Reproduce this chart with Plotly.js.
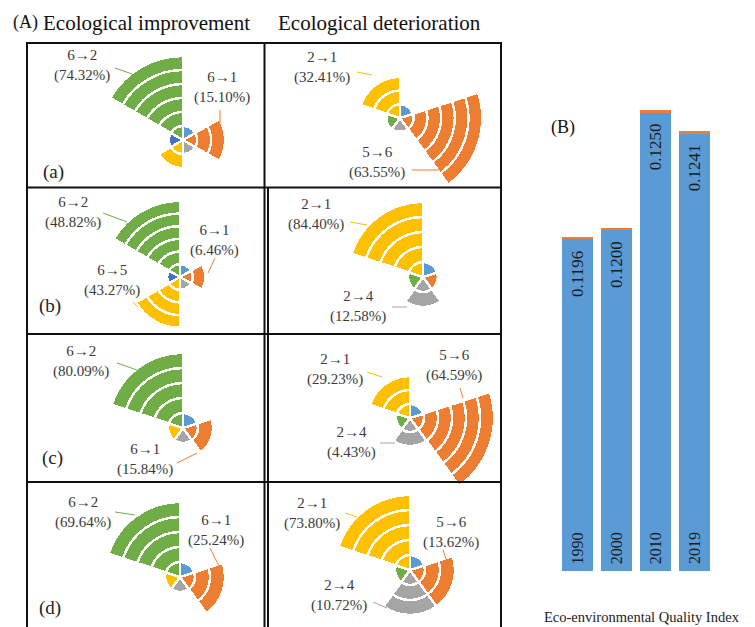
<!DOCTYPE html>
<html><head><meta charset="utf-8">
<script src="https://cdn.plot.ly/plotly-3.0.1.min.js"></script>
<style>html,body{margin:0;padding:0;overflow:hidden;background:#fff;}#chart{width:755px;height:700px;}</style>
</head><body><div id="chart"></div>
<script>
// ---- colours (sector order, clockwise from 12 o'clock) ----
const C_LBLUE='#5B9BD5', C_ORANGE='#ED7D31', C_GRAY='#A5A5A5', C_YELLOW='#FFC000', C_DBLUE='#4472C4', C_GREEN='#70AD47';
const impColors6 = [C_LBLUE, C_ORANGE, C_GRAY, C_YELLOW, C_DBLUE, C_GREEN];
const impColors5 = [C_LBLUE, C_ORANGE, C_GRAY, C_YELLOW, C_GREEN];
const detColors5 = [C_LBLUE, C_ORANGE, C_GRAY, C_GREEN, C_YELLOW];

// ---- ring counts per sector ----
const impRingsA = [1,3,1,2,1,6];
const impRingsB = [1,2,1,4,1,6];
const impRingsC = [1,2,1,1,5];
const impRingsD = [1,3,1,1,5];
const detRingsA = [1,6,1,1,3];
const detRingsB = [1,1,2,1,5];
const detRingsC = [1,6,2,1,3];
const detRingsD = [1,3,3,1,5];

// ---- labels ----
const impLabA = ['6→2','6→1'],       impPctA = ['74.32%','15.10%'];
const impLabB = ['6→2','6→1','6→5'], impPctB = ['48.82%','6.46%','43.27%'];
const impLabC = ['6→2','6→1'],       impPctC = ['80.09%','15.84%'];
const impLabD = ['6→2','6→1'],       impPctD = ['69.64%','25.24%'];
const detLabA = ['2→1','5→6'],       detPctA = ['32.41%','63.55%'];
const detLabB = ['2→1','2→4'],       detPctB = ['84.40%','12.58%'];
const detLabC = ['2→1','5→6','2→4'], detPctC = ['29.23%','64.59%','4.43%'];
const detLabD = ['2→1','5→6','2→4'], detPctD = ['73.80%','13.62%','10.72%'];
const panelTags = ['(a)','(b)','(c)','(d)'];

// ---- panel B ----
const years = ['1990','2000','2010','2019'];
const eqi = [0.1196, 0.1200, 0.1250, 0.1241];
const eqiCap = [0.0001, 0.0001, 0.0001, 0.0001];

// ---- geometry / style ----
const W = 755, H = 700;
const px = x => x / W, py = y => 1 - y / H;
const SERIF = 'Liberation Serif, Times New Roman, serif';
const LAB = '#3a3a3a';

const panels = [
 {rings: impRingsA, colors: impColors6, cx:183, cy:140, w:14,
  labs: impLabA, pcts: impPctA, pos: [[82,65],[222,88]],
  leaders: [[115,68,132,74,C_GREEN],[220,110,220,123,C_ORANGE]]},
 {rings: impRingsB, colors: impColors6, cx:180, cy:277, w:12.7,
  labs: impLabB, pcts: impPctB, pos: [[73,212],[214,240],[112,280]],
  leaders: [[103,213,127,222,C_GREEN],[215,258,208,273,C_ORANGE],[133,302,138,307,C_YELLOW]]},
 {rings: impRingsC, colors: impColors5, cx:183, cy:428, w:15,
  labs: impLabC, pcts: impPctC, pos: [[81,361],[145,459]],
  leaders: [[117,363,137,370,C_GREEN],[177,463,197,453,C_ORANGE]]},
 {rings: impRingsD, colors: impColors5, cx:180, cy:577, w:15,
  labs: impLabD, pcts: impPctD, pos: [[83,512],[216,530]],
  leaders: [[115,512,135,515,C_GREEN],[210,548,220,568,C_ORANGE]]},
 {rings: detRingsA, colors: detColors5, cx:400, cy:118, w:13.7,
  labs: detLabA, pcts: detPctA, pos: [[322,67],[377,162]],
  leaders: [[357,72,372,75,C_YELLOW],[412,170,442,170,C_ORANGE]]},
 {rings: detRingsB, colors: detColors5, cx:423, cy:277, w:15,
  labs: detLabB, pcts: detPctB, pos: [[316,214],[358,306]],
  leaders: [[350,222,367,225,C_YELLOW],[392,307,407,307,C_GRAY]]},
 {rings: detRingsC, colors: detColors5, cx:410, cy:418, w:14,
  labs: detLabC, pcts: detPctC, pos: [[335,369],[454,365],[351,442]],
  leaders: [[367,372,382,377,C_YELLOW],[460,388,463,398,C_ORANGE],[380,443,395,443,C_GRAY]]},
 {rings: detRingsD, colors: detColors5, cx:410, cy:570, w:15,
  labs: detLabD, pcts: detPctD, pos: [[312,513],[451,532],[339,595]],
  leaders: [[345,513,357,517,C_YELLOW],[443,550,447,562,C_ORANGE],[373,602,387,608,C_GRAY]]}
];
const tagPos = [[53,172],[50,306],[52,458],[50,608]];
const RMAX = 6.5;

const data = [], annotations = [], shapes = [];
const layout = {
  width: W, height: H, margin: {l:0, r:0, t:0, b:0},
  paper_bgcolor: '#fff', plot_bgcolor: 'rgba(0,0,0,0)', showlegend: false,
  barmode: 'stack', bargap: 0.2
};

panels.forEach((p, i) => {
  const sub = i === 0 ? 'polar' : 'polar' + (i + 1);
  const n = p.rings.length, sw = 360 / n;
  const centers = p.rings.map((_, j) => sw * j + sw / 2);
  const maxR = Math.max(...p.rings);
  for (let k = 1; k <= maxR; k++) {
    const idx = p.rings.map((c, j) => c >= k ? j : -1).filter(j => j >= 0);
    data.push({
      type: 'barpolar', subplot: sub,
      r: idx.map(() => 1), theta: idx.map(j => centers[j]), width: idx.map(() => sw),
      marker: {color: idx.map(j => p.colors[j]), line: {color: '#ffffff', width: 2.5}},
      hoverinfo: 'skip'
    });
  }
  const rp = RMAX * p.w;
  layout[sub] = {
    domain: {x: [px(p.cx - rp), px(p.cx + rp)], y: [py(p.cy + rp), py(p.cy - rp)]},
    bgcolor: 'rgba(0,0,0,0)', barmode: 'stack', bargap: 0, hole: 0,
    radialaxis: {visible: false, range: [0, RMAX]},
    angularaxis: {visible: false, rotation: 90, direction: 'clockwise'}
  };
  p.labs.forEach((t, j) => {
    annotations.push({xref:'paper', yref:'paper', x: px(p.pos[j][0]), y: py(p.pos[j][1]),
      xanchor:'center', yanchor:'middle', showarrow:false,
      text: t + '<br>(' + p.pcts[j] + ')', font: {family: SERIF, size: 15, color: LAB}});
  });
  p.leaders.forEach(l => shapes.push({type:'line', xref:'paper', yref:'paper',
    x0: px(l[0]), y0: py(l[1]), x1: px(l[2]), y1: py(l[3]), line: {color: l[4], width: 1}}));
});

panelTags.forEach((t, i) => annotations.push({xref:'paper', yref:'paper',
  x: px(tagPos[i][0]), y: py(tagPos[i][1]), xanchor:'center', yanchor:'middle', showarrow:false,
  text: t, font: {family: SERIF, size: 19, color: '#222'}}));

// titles
annotations.push({xref:'paper', yref:'paper', x: px(25), y: py(22), xanchor:'center', yanchor:'middle',
  showarrow:false, text:'(A)', font:{family:SERIF, size:18, color:'#111'}});
annotations.push({xref:'paper', yref:'paper', x: px(41), y: py(23), xanchor:'left', yanchor:'middle',
  showarrow:false, text:'Ecological improvement', font:{family:SERIF, size:21, color:'#111'}});
annotations.push({xref:'paper', yref:'paper', x: px(276), y: py(23), xanchor:'left', yanchor:'middle',
  showarrow:false, text:'Ecological deterioration', font:{family:SERIF, size:21, color:'#111'}});

// table lines
const tl = (x0,y0,x1,y1) => shapes.push({type:'line', xref:'paper', yref:'paper',
  x0:px(x0), y0:py(y0), x1:px(x1), y1:py(y1), line:{color:'#111', width:2}});
[43, 187.5, 334, 482].forEach(y => tl(26, y, 502, y));
tl(27, 43, 27, 700); tl(264.5, 43, 264.5, 700); tl(268, 187, 268, 700); tl(501, 43, 501, 700);

// panel B bars
const Y0 = 0.10548, Y1 = 0.12554;
data.push({type:'bar', x: years, y: eqi, xaxis:'x', yaxis:'y', marker:{color:'#5B9BD5'}, hoverinfo:'skip'});
data.push({type:'bar', x: years, y: eqiCap, xaxis:'x', yaxis:'y', marker:{color:'#ED7D31'}, hoverinfo:'skip'});
layout.xaxis = {domain:[px(558), px(713.5)], range:[-0.5, 3.5], type:'category', visible:false, fixedrange:true};
layout.yaxis = {domain:[py(571), py(100)], range:[Y0, Y1], visible:false, fixedrange:true};
years.forEach((yr, i) => {
  annotations.push({xref:'x', yref:'y', x: i, y: eqi[i], yshift:-9, xanchor:'center', yanchor:'top',
    textangle:-90, showarrow:false, text: eqi[i].toFixed(4), font:{family:SERIF, size:17, color:'#1a1a1a'}});
  annotations.push({xref:'x', yref:'y', x: i, y: Y0, yshift:5, xanchor:'center', yanchor:'bottom',
    textangle:-90, showarrow:false, text: yr, font:{family:SERIF, size:16, color:'#1a1a1a'}});
});
annotations.push({xref:'paper', yref:'paper', x: px(563), y: py(128), xanchor:'center', yanchor:'middle',
  showarrow:false, text:'(B)', font:{family:SERIF, size:18, color:'#111'}});
annotations.push({xref:'paper', yref:'paper', x: px(542), y: py(617), xanchor:'left', yanchor:'middle',
  showarrow:false, text:'Eco-environmental Quality Index', font:{family:SERIF, size:14.5, color:'#222'}});

layout.annotations = annotations;
layout.shapes = shapes;
Plotly.newPlot('chart', data, layout, {staticPlot:true, displayModeBar:false});
</script></body></html>
